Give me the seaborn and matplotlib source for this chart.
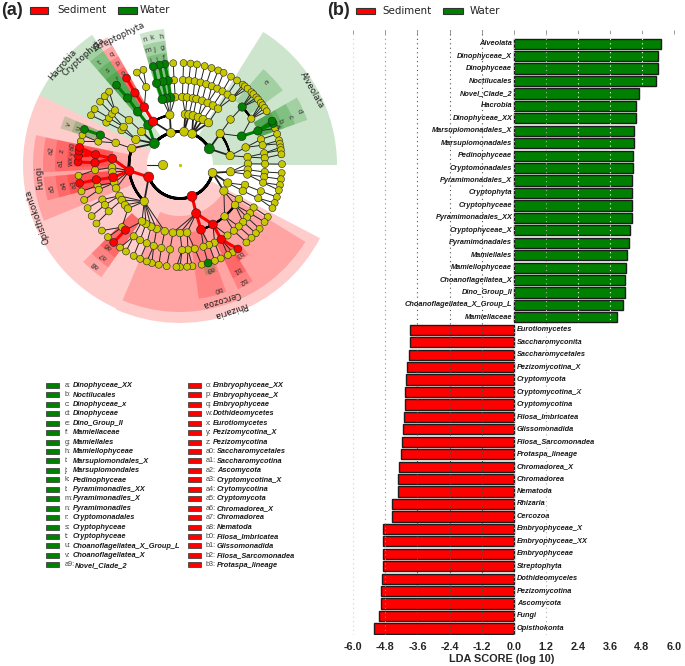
import matplotlib
matplotlib.use("Agg")
import matplotlib.pyplot as plt
from matplotlib.patches import Rectangle
import numpy as np
import pandas as pd
import seaborn as sns

WIDTH, HEIGHT = 685, 666
RED, GREEN, YELLOW = "#ff0000", "#008000", "#c8c800"
BAR_FONT = "Liberation Sans"

water_taxa = [
    "Alveolata", "Dinophyceae_X", "Dinophyceae", "Noctilucales", "Novel_Clade_2", "Hacrobia",
    "Dinophyceae_XX", "Marsupiomonadales_X", "Marsupiomonadales", "Pedinophyceae",
    "Cryptomonadales", "Pyramimonadales_X", "Cryptophyta", "Cryptophyceae", "Pyramimonadales_XX",
    "Cryptophyceae_X", "Pyramimonadales", "Mamiellales", "Mamiellophyceae", "Choanoflagellatea_X",
    "Dino_Group_II", "Choanoflagellatea_X_Group_L", "Mamiellaceae",
]
water_lda = [
    5.50, 5.40, 5.40, 5.34, 4.69, 4.56, 4.56, 4.52, 4.52, 4.47, 4.47, 4.41,
    4.41, 4.41, 4.41, 4.37, 4.31, 4.23, 4.22, 4.16, 4.16, 4.11, 3.85,
]
sediment_taxa = [
    "Eurotiomycetes", "Saccharomyconita", "Saccharomycetales", "Pezizomycotina_X", "Cryptomycota",
    "Cryptomycotina_X", "Cryptomycotina", "Filosa_Imbricatea", "Glissomonadida",
    "Filosa_Sarcomonadea", "Protaspa_lineage", "Chromadorea_X", "Chromadorea", "Nematoda",
    "Rhizaria", "Cercozoa", "Embryophyceae_X", "Embryophyceae_XX", "Embryophyceae", "Streptophyta",
    "Dothideomyceles", "Pezizomycotina", "Ascomycota", "Fungi", "Opisthokonta",
]
sediment_lda = [
    -3.86, -3.87, -3.90, -4.00, -4.03, -4.05, -4.06, -4.09, -4.15, -4.16, -4.20, -4.30,
    -4.32, -4.32, -4.54, -4.54, -4.88, -4.89, -4.89, -4.89, -4.92, -4.98, -4.98, -5.05, -5.24,
]
lda_ticks = [-6.0, -4.8, -3.6, -2.4, -1.2, 0.0, 1.2, 2.4, 3.6, 4.8, 6.0]
grid_colors = ["#d0d0d0", "#909090", "#505050", "#505050", "#505050", "#c0c0c0", "#b0b0b0",
               "#ffffff", "#ffffff", "#ffffff", "#ffffff"]

# angles of the tree nodes in degrees, one list per ring and state
ring_radius = {0: 17, 1: 33.5, 2: 51, 3: 68, 4: 85, 5: 102}
yellow_nodes = {
    0: [180],
    1: [105.8, 83, 68.7, -13.5],
    2: [101.5, 84, 80, 75, 69, 63, 56, 38, 10.6, -7.6, -20.6, -30.6, 161, 150, 139, -134.5],
    3: [94, 88, 84, 79, 76, 71, 66, 61, 56, 42, 15, 6.7, 1, -4, -8, -17.1, -22.4, -30, -36, -49,
        -84, -90, -96, -103, -110, -115, -120, -124, 149, 146, 138.6, 161, 182, 186, 195, 200,
        207, 211, 216, 220],
    4: [94, 88, 84, 80, 76, 72, 68, 64, 60, 56, 52, 33, 17.6, 13.5, 8, 4.7, 0.7, -4.7, -8, -12,
        -18, -23, -30, -34.5, -38, -42, -46.3, -50.7, -56, -66, -70, -74, -80, -84.6, -88.6,
        -96.7, -102.6, -108, -113, -118, -123, -133, 183.4, 194, 197, 204, 208, 213, 164, 150,
        146.5, 143, 140, 113.5],
    5: [93.8, 88, 84, 80.4, 76, 72, 68, 64.7, 60, 56, 52, 50.5, 48.5, 45.5, 44, 41.5, 40, 37.6,
        35.9, 34, 31.8, 21, 17.7, 14, 12, 10, 8.4, 6, 0.5, -4.5, -8, -11.3, -14.3, -18.3, -21.8,
        -25, -30.6, -34, -38.7, -42, -45.5, -49.4, -58.9, -62, -66.4, -70, -77.7, -83, -86, -90,
        -92, -97.5, -102, -106, -109, -113, -117, -122, -126, -135, -140, -145, -150, -155, -160,
        -165, -174, 166.6, 163, 150.8, 146.8, 141.6, 137.6, 134, 115, 111],
}
red_nodes = {
    1: [-159, -69],
    2: [121.8, -173.5, -71.5],
    3: [121.7, -169.5, 174.6, -72, -61],
    4: [122, -130, -170, 178.5, 173, -61],
    5: [121.6, -130.6, -169.7, 178.3, 175, 172.1, 170, -55.4],
}
green_nodes = {
    1: [140, 29],
    2: [128.4],
    3: [128.4, 25, 98, 101.7, 105],
    4: [128, 159.4, 43, 23.6, 98, 101.6, 106],
    5: [128.5, 159.6, 24, 25.5, 98.5, 101.7, 105.2, -74],
}
arc_radii = [33.5, 33.5, 51, 51, 51, 68, 85]
arc_starts = [29, -159, 161, 101.5, 10.6, -72, 33]
arc_ends = [140, -13.5, 225, 121.8, 38, -36, 43]
arc_widths = [2.0, 2.0, 1.8, 1.5, 1.5, 1.5, 1.5]

# highlighted clades: colour, start angle, end angle, inner radius, outer radius
clade_colors = [
    GREEN, GREEN, GREEN, GREEN, GREEN, GREEN, GREEN, GREEN,  # Alveolata, e, d, c, b, a, Hacrobia, Cryptophyta
    RED, RED, RED, RED,  # Streptophyta, q, p, o
    RED, RED, RED, RED,  # Opisthokonta, Rhizaria, Cercozoa, Fungi
    RED, RED, RED, RED, RED, RED, RED,  # a2, z, a1, a0, y, x, w
    RED, RED, RED, RED, RED, RED,  # a5, a4, a3, a8, a7, a6
    RED, RED, RED, RED,  # b0, b1, b2, b3
    GREEN, GREEN, GREEN,  # t, s, r
    GREEN, GREEN, GREEN, GREEN, GREEN, GREEN, GREEN, GREEN, GREEN,  # h, g, f, k, j, i, n, m, l
    GREEN, GREEN, GREEN,  # v, u, a9
]
clade_starts = [
    0, 36, 19.5, 19.5, 19.5, 19.5, 124, 124,
    119.5, 119.5, 119.5, 119.5,
    153.5, 246, 247, 168.3,
    168.5, 168.5, 176, 169, 172.5, 175.5, 178,
    185, 185, 185, 225, 225, 225,
    278, 295, 295, 301,
    124, 124, 124,
    96.7, 96.7, 96.7, 100.2, 100.2, 100.2, 103.7, 103.7, 103.7,
    157, 157, 283,
]
clade_ends = [
    58, 49, 30, 30, 30, 30, 153.5, 131,
    124, 124, 124, 124,
    246, 332.4, 328.5, 202.3,
    183, 176, 183, 172.5, 175.5, 178, 181,
    195, 195, 195, 235, 235, 235,
    290, 302, 302, 307.5,
    131, 131, 131,
    100.2, 100.2, 100.2, 103.7, 103.7, 103.7, 107.2, 107.2, 107.2,
    163, 163, 289,
]
clade_inner = [
    33, 85, 85, 85, 85, 85, 33, 68,
    68, 68, 68, 68,
    33, 33, 51, 51,
    68, 68, 68, 68, 68, 68, 68,
    68, 68, 68, 68, 68, 68,
    68, 85, 85, 102,
    68, 68, 68,
    68, 68, 68, 68, 68, 68, 68, 68, 68,
    85, 85, 102,
]
clade_outer = [
    157, 127, 135, 122, 110, 105, 157, 146,
    147, 137, 125, 113,
    157, 158, 147, 147,
    137, 125, 125, 113, 113, 113, 113,
    137, 125, 113, 137, 125, 113,
    135, 125, 137, 113,
    137, 125, 113,
    137, 125, 113, 137, 125, 113, 137, 125, 113,
    125, 113, 113,
]

# names written on the cladogram: text, angle, radius
clade_names = ["Alveolata", "Hacrobia", "Cryptophyta", "Streptophyta", "Opisthokonta", "Fungi",
               "Rhizaria", "Cercozoa"]
clade_name_angles = [29.5, 139.4, 132, 115.7, 200, 185.4, 289.1, 287.2]
clade_name_radii = [152, 154, 145, 142, 152, 141, 153, 141]
letter_names = ["e", "d", "c", "b", "a", "t", "s", "r", "q", "p", "o", "n", "k", "h", "m", "j",
                "g", "l", "i", "f", "v", "u", "a2", "z", "a1", "a0", "y", "x", "w", "a5", "a4",
                "a3", "a8", "a7", "a6", "b0", "b1", "b2", "b3", "a9"]
letter_angles = [43.9, 24.5, 23.7, 23.4, 21.6, 128, 127, 126, 121.7, 121.7, 121.7, 105.5, 102.3,
                 98.4, 105.5, 102.3, 98.4, 105.5, 102.3, 98.4, 160, 160, 173.5, 173.3, 178.7,
                 170.4, 174, 176.5, 179, 190.3, 190, 190, 229.6, 229.7, 228.5, 287, 298.5, 298.3,
                 303.6, 286]
letter_radii = [119, 131, 120, 109, 105, 130, 119, 107, 130, 119, 108, 130, 130, 130, 119, 118,
                119, 108, 108, 108, 119, 108, 130, 119, 119, 109, 109, 109, 109, 130, 118, 108,
                131, 119, 108, 130, 119, 132, 107, 108]

key_green = ["a", "b", "c", "d", "e", "f", "g", "h", "i", "j", "k", "l", "m", "n", "r", "s", "t",
             "u", "v", "a9"]
name_green = ["Dinophyceae_XX", "Noctilucales", "Dinophyceae_x", "Dinophyceae", "Dino_Group_II",
              "Mamiellaceae", "Mamiellales", "Mamiellophyceae", "Marsupiomondales_X",
              "Marsupiomondales", "Pedinophyceae", "Pyramimonadles_XX", "Pyramimonadles_X",
              "Pyramimonadles", "Cryptomonadales", "Cryptophyceae", "Cryptophyceae",
              "Choanoflagellatea_X_Group_L", "Choanoflagellatea_X", "Novel_Clade_2"]
key_red = ["o", "p", "q", "w", "x", "y", "z", "a0", "a1", "a2", "a3", "a4", "a5", "a6", "a7", "a8",
           "b0", "b1", "b2", "b3"]
name_red = ["Embryophyceae_XX", "Embryophyceae_X", "Embryophyceae", "Dothideomycetes",
            "Eurotiomycetes", "Pezizomycotina_X", "Pezizomycotina", "Saccharomycetales",
            "Saccharomycotina", "Ascomycota", "Cryptomycotina_X", "Crytomycotina", "Cryptomycota",
            "Chromadorea_X", "Chromadorea", "Nematoda", "Filosa_Imbricatea", "Glissomonadida",
            "Filosa_Sarcomonadea", "Protaspa_lineage"]


def axes_from_pixels(fig, left, top, right, bottom, **kwargs):
    return fig.add_axes(
        [left / WIDTH, 1 - bottom / HEIGHT, (right - left) / WIDTH, (bottom - top) / HEIGHT],
        **kwargs,
    )


def node_frame(nodes, state):
    rows = []
    for ring, angles in nodes.items():
        for angle in angles:
            rows.append({"theta": np.deg2rad(angle), "r": ring_radius[ring], "ring": ring,
                         "angle": angle % 360, "state": state})
    return pd.DataFrame(rows)


def find_parent(child, inner, same_state_limit=14):
    gaps = np.abs((inner["angle"] - child["angle"] + 180) % 360 - 180)
    if child["state"] != "yellow":
        same = gaps[inner["state"] == child["state"]]
        if len(same) and same.min() < same_state_limit:
            return inner.loc[same.idxmin()]
    return inner.loc[gaps.idxmin()]


def draw_branches(ax, nodes):
    ax.plot([np.pi, np.pi], [17, 33.5], color="#222222", lw=0.8, zorder=3)
    for ring in range(2, 6):
        inner = nodes[nodes["ring"] == ring - 1].reset_index(drop=True)
        for _, child in nodes[nodes["ring"] == ring].iterrows():
            parent = find_parent(child, inner)
            shared = child["state"] == parent["state"] and child["state"] != "yellow"
            color = {"red": RED, "green": GREEN}[child["state"]] if shared else "#222222"
            ax.plot([parent["theta"], child["theta"]], [parent["r"], child["r"]], color=color,
                    lw=2.2 if shared else (1.3 if ring == 2 else 0.7), zorder=3,
                    solid_capstyle="round")
    for radius, start, end, width in zip(arc_radii, arc_starts, arc_ends, arc_widths):
        # thin polar bar: its edge gives the curve
        ax.bar(np.deg2rad((start + end) / 2), 0.01, width=np.deg2rad(end - start), bottom=radius,
               color="none", edgecolor="black", linewidth=width, zorder=3)


def draw_cladogram(fig):
    ax = axes_from_pixels(fig, 15, 0, 345, 330, projection="polar")
    for start, end, inner, outer, color in zip(clade_starts, clade_ends, clade_inner, clade_outer,
                                               clade_colors):
        ax.bar(np.deg2rad((start + end) / 2), outer - inner, width=np.deg2rad(end - start),
               bottom=inner, color=color, alpha=0.2, linewidth=0, zorder=1)

    nodes = pd.concat(
        [node_frame(yellow_nodes, "yellow"), node_frame(red_nodes, "red"),
         node_frame(green_nodes, "green")],
        ignore_index=True,
    )
    draw_branches(ax, nodes)

    ax.scatter([0], [0], s=2, color=YELLOW, zorder=4)
    sizes = {
        "yellow": {0: 44, 1: 40, 2: 36, 3: 30, 4: 27, 5: 25},
        "green": {1: 52, 2: 44, 3: 40, 4: 36, 5: 32},
        "red": {1: 52, 2: 44, 3: 40, 4: 36, 5: 32},
    }
    for state, color in [("yellow", YELLOW), ("green", GREEN), ("red", RED)]:
        subset = nodes[nodes["state"] == state]
        sns.scatterplot(data=subset, x="theta", y="r", size="ring", sizes=sizes[state], color=color,
                        edgecolor="#222222", linewidth=0.4, legend=False, ax=ax, zorder=5)

    for text, angle, radius in zip(clade_names, clade_name_angles, clade_name_radii):
        ax.text(np.deg2rad(angle), radius, text, rotation=angle - 90, rotation_mode="anchor",
                ha="center", va="center", fontsize=6.2, color="#222222", zorder=6)
    for text, angle, radius in zip(letter_names, letter_angles, letter_radii):
        ax.text(np.deg2rad(angle), radius, text, rotation=angle - 90, rotation_mode="anchor",
                ha="center", va="center", fontsize=5, color="#333333", zorder=6)

    ax.set_ylim(0, 165)
    ax.set_axis_off()


def draw_lda_bars(fig):
    frame = pd.DataFrame({
        "taxon": water_taxa + sediment_taxa,
        "lda": water_lda + sediment_lda,
        "group": ["Water"] * len(water_taxa) + ["Sediment"] * len(sediment_taxa),
    })
    ax = axes_from_pixels(fig, 353.3, 30, 674, 635)
    sns.barplot(data=frame, y="taxon", x="lda", hue="group",
                palette={"Water": GREEN, "Sediment": RED}, dodge=False, width=0.82, saturation=1,
                edgecolor="#1c1c1c", linewidth=1.0, legend=False, ax=ax, zorder=2)
    for index, row in frame.iterrows():
        water = row["lda"] > 0
        ax.text(-0.05 if water else 0.12, index, row["taxon"], ha="right" if water else "left",
                va="center", fontsize=5.3, fontweight="bold", fontstyle="italic",
                family=BAR_FONT, color="#1a1a1a")
    for tick, color in zip(lda_ticks, grid_colors):
        ax.axvline(tick, color=color, lw=0.8, ls=(0, (1, 3)), zorder=3)

    ax.set_xlim(-6, 6)
    ax.set_ylim(47.53, -1.10)
    ax.set_xticks(lda_ticks, [f"{tick:.1f}" for tick in lda_ticks])
    ax.set_yticks([])
    ax.set_ylabel("")
    ax.set_xlabel("LDA SCORE (log 10)", fontsize=7.8, fontweight="bold", family=BAR_FONT)
    ax.xaxis.set_label_coords((502 - 353.3) / (674 - 353.3), -0.031)
    ax.tick_params(axis="x", top=True, bottom=False, direction="in", length=3, width=0.7,
                   color="#999999", pad=5)
    for label in ax.get_xticklabels():
        label.set_fontsize(7.8)
        label.set_fontweight("bold")
        label.set_family(BAR_FONT)
    sns.despine(ax=ax, left=True, bottom=True)
    ax.patch.set_alpha(0)


def draw_key(ax, left, right, y, color, label, text_x):
    ax.add_patch(Rectangle((left, y - 3.3), right - left, 6.6, facecolor=color,
                           edgecolor="#333333", linewidth=0.8))
    ax.text(text_x, y, label, va="center", fontsize=7.4, color="#222222")


def draw_overlay(fig):
    ax = axes_from_pixels(fig, 0, 0, WIDTH, HEIGHT)
    ax.set_xlim(0, WIDTH)
    ax.set_ylim(HEIGHT, 0)
    ax.set_axis_off()
    ax.patch.set_alpha(0)

    for x, text in [(1.5, "(a)"), (327, "(b)")]:
        ax.text(x, 10.5, text, va="center", fontsize=13, fontweight="bold", family=BAR_FONT)
    draw_key(ax, 30, 48, 10.3, RED, "Sediment", 57)
    draw_key(ax, 118, 137, 10.3, GREEN, "Water", 140)
    draw_key(ax, 356, 375, 11, RED, "Sediment", 382)
    draw_key(ax, 443, 463, 11, GREEN, "Water", 470)

    for col, (keys, names, color) in enumerate([(key_green, name_green, GREEN),
                                                (key_red, name_red, RED)]):
        box_left, key_x = (46, 64.5) if col == 0 else (187.7, 205.5)
        for i, (key, name) in enumerate(zip(keys, names)):
            y = 385.3 + i * 9.45
            ax.add_patch(Rectangle((box_left, y - 2.5), 13.5, 5, facecolor=color,
                                   edgecolor="#444444", linewidth=0.6))
            ax.text(key_x, y, f"{key}:", va="center", fontsize=5.2, color="#444444", family=BAR_FONT)
            name_x = (72.7 if len(key) == 1 else 74.5) if col == 0 else (213 if len(key) == 1 else 217)
            ax.text(name_x, y + 0.3, name, va="center", fontsize=5.3, fontweight="bold",
                    fontstyle="italic", family=BAR_FONT, color="#1a1a1a")


def main():
    sns.set_style("white")
    fig = plt.figure(figsize=(WIDTH / 100, HEIGHT / 100), dpi=100)
    draw_cladogram(fig)
    draw_lda_bars(fig)
    draw_overlay(fig)
    fig.savefig("out.png", dpi=100)
    plt.close(fig)


if __name__ == "__main__":
    main()
